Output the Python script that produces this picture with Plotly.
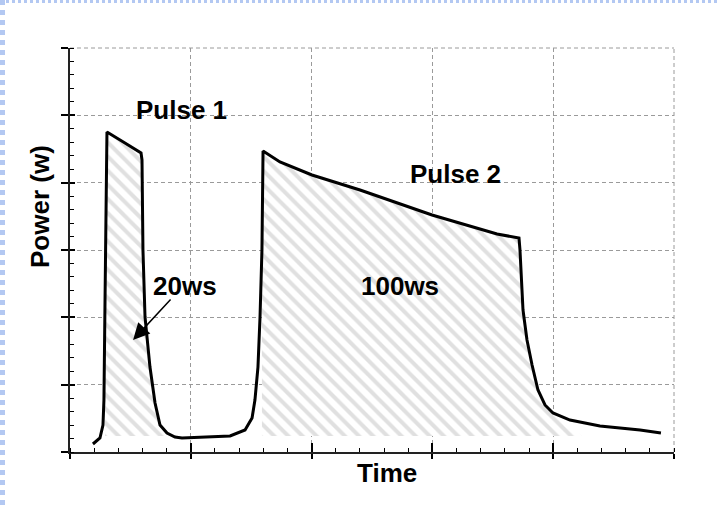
import plotly.graph_objects as go

# ---- data (x in major-grid units of time, y in major-grid units of power) ----
time = [0.190, 0.248, 0.273, 0.281, 0.290, 0.298, 0.306, 0.455, 0.588, 0.596, 0.604,
        0.621, 0.662, 0.704, 0.745, 0.803, 0.869, 0.927, 1.325, 1.449, 1.507, 1.531,
        1.556, 1.573, 1.589, 1.598, 1.738, 2.003, 2.401, 2.997, 3.535, 3.717, 3.725,
        3.750, 3.783, 3.825, 3.874, 3.932, 3.998, 4.139, 4.387, 4.719, 4.892]
power = [0.119, 0.208, 0.401, 0.772, 2.258, 3.743, 4.753, 4.589, 4.441, 4.337, 3.000,
         2.005, 1.262, 0.728, 0.401, 0.282, 0.223, 0.208, 0.238, 0.327, 0.505, 0.772,
         1.262, 2.005, 3.000, 4.471, 4.307, 4.114, 3.891, 3.520, 3.238, 3.178, 3.000,
         2.109, 1.663, 1.292, 0.921, 0.698, 0.579, 0.475, 0.386, 0.327, 0.282]

# hatched energy areas
pulse1_x = [0.290, 0.290, 0.298, 0.306, 0.455, 0.588, 0.596, 0.604, 0.621, 0.662, 0.704, 0.745, 0.786]
pulse1_y = [0.238, 2.258, 3.743, 4.753, 4.589, 4.441, 4.337, 3.000, 2.005, 1.262, 0.728, 0.401, 0.238]
pulse2_x = [1.589, 1.589, 1.598, 1.738, 2.003, 2.401, 2.997, 3.535, 3.717, 3.725, 3.750,
            3.783, 3.825, 3.874, 3.932, 4.081, 4.238]
pulse2_y = [0.238, 3.000, 4.471, 4.307, 4.114, 3.891, 3.520, 3.238, 3.178, 3.000, 2.109,
            1.663, 1.292, 0.921, 0.698, 0.475, 0.238]

x_range = [0, 5]
y_range = [0, 6]

W, H = 717, 510
L, R, T, B = 70, 43, 48, 58
pw, ph = W - L - R, H - T - B

def px(xp):
    return (xp - L) / pw

def py(yp):
    return (H - B - yp) / ph

hatch = dict(shape="\\", fgcolor="#c2c2c2", bgcolor="white", size=10, solidity=0.4)

fig = go.Figure()
for fx, fy in [(pulse1_x, pulse1_y), (pulse2_x, pulse2_y)]:
    fig.add_trace(go.Scatter(x=fx, y=fy, mode="lines", fill="toself",
                             fillcolor="white", fillpattern=hatch,
                             line=dict(width=0), hoverinfo="skip", showlegend=False))
fig.add_trace(go.Scatter(x=time, y=power, mode="lines",
                         line=dict(color="black", width=3), showlegend=False))
# helper trace for the overlay axes (inner half of major ticks)
fig.add_trace(go.Scatter(x=[None], y=[None], xaxis="x2", yaxis="y2", showlegend=False))

grid = dict(showgrid=True, gridcolor="#9a9a9a", gridwidth=1, griddash="4px,3px")
fig.update_layout(
    width=W, height=H,
    margin=dict(l=L, r=R, t=T, b=B),
    paper_bgcolor="white", plot_bgcolor="white",
    font=dict(family="Liberation Sans, Arial, sans-serif", color="black"),
    xaxis=dict(range=x_range, dtick=1, tick0=0, showticklabels=False,
               ticks="outside", ticklen=5, tickcolor="black", tickwidth=1.5,
               showline=True, linecolor="#222", linewidth=1.5, zeroline=False,
               minor=dict(ticks="inside", ticklen=4, dtick=0.2, tickcolor="black",
                          tickwidth=1, showgrid=False),
               **grid),
    yaxis=dict(range=y_range, dtick=1, tick0=0, showticklabels=False,
               ticks="outside", ticklen=7, tickcolor="black", tickwidth=1.5,
               showline=True, linecolor="#222", linewidth=1.5, zeroline=False,
               minor=dict(ticks="inside", ticklen=4, dtick=0.2, tickcolor="black",
                          tickwidth=1, showgrid=False),
               **grid),
    xaxis2=dict(range=x_range, dtick=1, tick0=0, overlaying="x", anchor="y2",
                showticklabels=False, ticks="inside", ticklen=9, tickcolor="black",
                tickwidth=1.5, showgrid=False, zeroline=False, showline=False),
    yaxis2=dict(range=y_range, dtick=1, tick0=0, overlaying="y", anchor="x2",
                showticklabels=False, ticks="inside", ticklen=5, tickcolor="black",
                tickwidth=1.5, showgrid=False, zeroline=False, showline=False),
)

# dashed top / right frame continuing the grid
fig.add_shape(type="line", xref="paper", yref="paper", x0=0, x1=1, y0=1, y1=1,
              layer="below", line=dict(color="#9a9a9a", width=1, dash="4px,3px"))
fig.add_shape(type="line", xref="paper", yref="paper", x0=1, x1=1, y0=0, y1=1,
              layer="below", line=dict(color="#9a9a9a", width=1, dash="4px,3px"))

big = dict(size=26, family="Liberation Sans, Arial, sans-serif", color="black")
labels = [("<b>Pulse 1</b>", 0.927, 5.08), ("<b>Pulse 2</b>", 3.195, 4.13),
          ("<b>100ws</b>", 2.732, 2.466), ("<b>20ws</b>", 0.952, 2.466)]
for txt, x, y in labels:
    fig.add_annotation(x=x, y=y, text=txt, showarrow=False, font=big,
                       xanchor="center", yanchor="middle")
fig.add_annotation(x=0.522, y=1.663, ax=0.844, ay=2.287, axref="x", ayref="y",
                   showarrow=True, arrowhead=2, arrowsize=2.2, arrowwidth=1.5,
                   arrowcolor="black", text="")

fig.add_annotation(xref="paper", yref="paper", x=px(40), y=py(207), text="<b>Power (w)</b>",
                   textangle=-90, showarrow=False, font=big,
                   xanchor="center", yanchor="middle")
fig.add_annotation(xref="paper", yref="paper", x=px(387), y=py(473), text="<b>Time</b>",
                   showarrow=False, font=big, xanchor="center", yanchor="middle")

# light blue dotted slide frame
fig.add_shape(type="line", xref="paper", yref="paper", x0=px(2.5), x1=px(2.5),
              y0=py(0), y1=py(H), line=dict(color="#b3c8f2", width=5, dash="dot"))
fig.add_shape(type="line", xref="paper", yref="paper", x0=px(0), x1=px(W),
              y0=py(1.5), y1=py(1.5), line=dict(color="#b3c8f2", width=3, dash="dot"))

fig.write_html("out.html", config={"displayModeBar": False},
               post_script="document.body.style.margin='0';")
